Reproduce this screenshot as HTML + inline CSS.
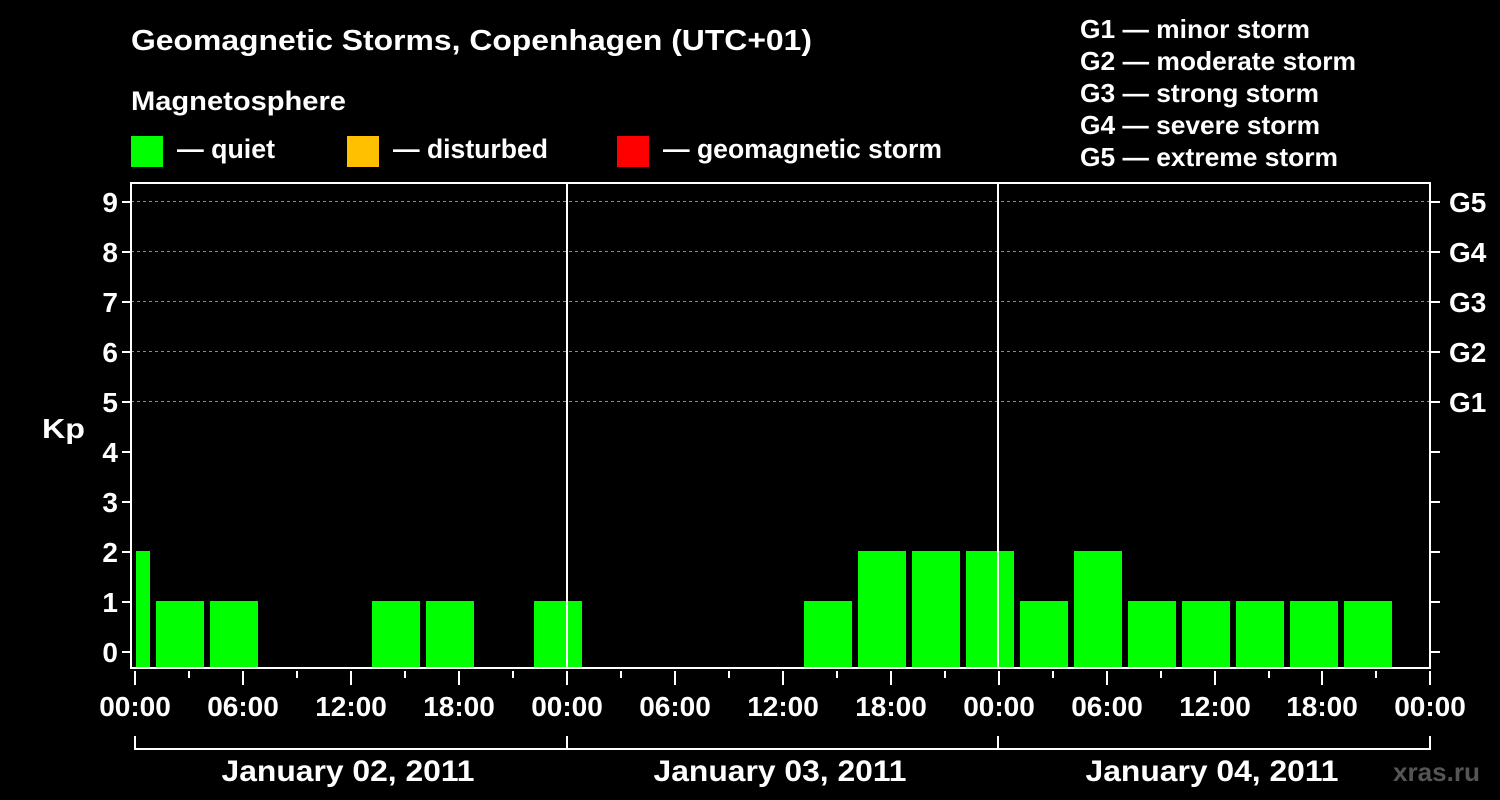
<!DOCTYPE html><html><head><style>body{margin:0;background:#000}svg{display:block}text{font-family:"Liberation Sans",Arial,sans-serif;font-weight:bold;fill:#fff}</style></head><body>
<svg width="1500" height="800" xmlns="http://www.w3.org/2000/svg">
<rect width="1500" height="800" fill="#000"/>
<text x="131" y="50" font-size="29" textLength="681" lengthAdjust="spacingAndGlyphs">Geomagnetic Storms, Copenhagen (UTC+01)</text>
<text x="131" y="110" font-size="27" textLength="215" lengthAdjust="spacingAndGlyphs">Magnetosphere</text>
<rect x="131" y="136" width="32" height="31" fill="#00ff00"/><text x="177" y="158" font-size="27" textLength="98" lengthAdjust="spacingAndGlyphs">— quiet</text>
<rect x="347" y="136" width="32" height="31" fill="#ffc000"/><text x="393" y="158" font-size="27" textLength="155" lengthAdjust="spacingAndGlyphs">— disturbed</text>
<rect x="617" y="136" width="32" height="31" fill="#ff0000"/><text x="663" y="158" font-size="27" textLength="279" lengthAdjust="spacingAndGlyphs">— geomagnetic storm</text>
<g font-size="26"><text x="1080" y="38" textLength="230" lengthAdjust="spacingAndGlyphs">G1 — minor storm</text><text x="1080" y="70" textLength="276" lengthAdjust="spacingAndGlyphs">G2 — moderate storm</text><text x="1080" y="102" textLength="239" lengthAdjust="spacingAndGlyphs">G3 — strong storm</text><text x="1080" y="134" textLength="240" lengthAdjust="spacingAndGlyphs">G4 — severe storm</text><text x="1080" y="166" textLength="258" lengthAdjust="spacingAndGlyphs">G5 — extreme storm</text></g>
<g stroke="#888" stroke-dasharray="3,3" stroke-width="1">
<line x1="131" x2="1430" y1="201.5" y2="201.5"/><line x1="131" x2="1430" y1="251.5" y2="251.5"/><line x1="131" x2="1430" y1="301.5" y2="301.5"/><line x1="131" x2="1430" y1="351.5" y2="351.5"/><line x1="131" x2="1430" y1="401.5" y2="401.5"/></g>
<g fill="#00ff00">
<rect x="136" y="551" width="14" height="116"/>
<rect x="156" y="601" width="48" height="66"/><rect x="210" y="601" width="48" height="66"/>
<rect x="372" y="601" width="48" height="66"/><rect x="426" y="601" width="48" height="66"/>
<rect x="534" y="601" width="48" height="66"/>
<rect x="804" y="601" width="48" height="66"/>
<rect x="858" y="551" width="48" height="116"/><rect x="912" y="551" width="48" height="116"/><rect x="966" y="551" width="48" height="116"/>
<rect x="1020" y="601" width="48" height="66"/><rect x="1074" y="551" width="48" height="116"/>
<rect x="1128" y="601" width="48" height="66"/><rect x="1182" y="601" width="48" height="66"/><rect x="1236" y="601" width="48" height="66"/><rect x="1290" y="601" width="48" height="66"/><rect x="1344" y="601" width="48" height="66"/>
</g>
<g stroke="#fff" stroke-width="2" fill="none">
<rect x="131" y="183" width="1299" height="485"/>
<line x1="567" y1="183" x2="567" y2="668"/><line x1="998" y1="183" x2="998" y2="668"/>
<path d="M122 652H131M122 602H131M122 552H131M122 502H131M122 452H131M122 402H131M122 352H131M122 302H131M122 252H131M122 202H131"/>
<path d="M1430 652H1440M1430 602H1440M1430 552H1440M1430 502H1440M1430 452H1440M1430 402H1440M1430 352H1440M1430 302H1440M1430 252H1440M1430 202H1440"/>
<path d="M135 671V685M243 671V685M351 671V685M459 671V685M567 671V685M675 671V685M783 671V685M891 671V685M999 671V685M1107 671V685M1215 671V685M1322 671V685M1430 671V685"/>
<path d="M189 671V678M297 671V678M405 671V678M513 671V678M621 671V678M729 671V678M837 671V678M945 671V678M1053 671V678M1161 671V678M1269 671V678M1376 671V678"/>
<path d="M135 736V749H1430V736M567 736V749M998 736V749"/>
</g>
<g font-size="28" text-anchor="end"><text x="118" y="662">0</text><text x="118" y="612">1</text><text x="118" y="562">2</text><text x="118" y="512">3</text><text x="118" y="462">4</text><text x="118" y="412">5</text><text x="118" y="362">6</text><text x="118" y="312">7</text><text x="118" y="262">8</text><text x="118" y="212">9</text></g>
<text x="42" y="438" font-size="28" textLength="43" lengthAdjust="spacingAndGlyphs">Kp</text>
<g font-size="28"><text x="1449" y="412">G1</text><text x="1449" y="362">G2</text><text x="1449" y="312">G3</text><text x="1449" y="262">G4</text><text x="1449" y="212">G5</text></g>
<g font-size="28" text-anchor="middle"><text x="135" y="716">00:00</text><text x="243" y="716">06:00</text><text x="351" y="716">12:00</text><text x="459" y="716">18:00</text><text x="567" y="716">00:00</text><text x="675" y="716">06:00</text><text x="783" y="716">12:00</text><text x="891" y="716">18:00</text><text x="999" y="716">00:00</text><text x="1107" y="716">06:00</text><text x="1215" y="716">12:00</text><text x="1322" y="716">18:00</text><text x="1430" y="716">00:00</text>
<text x="348" y="781" font-size="30" textLength="253" lengthAdjust="spacingAndGlyphs">January 02, 2011</text><text x="780" y="781" font-size="30" textLength="253" lengthAdjust="spacingAndGlyphs">January 03, 2011</text><text x="1212" y="781" font-size="30" textLength="253" lengthAdjust="spacingAndGlyphs">January 04, 2011</text></g>
<text x="1393" y="781" font-size="26" textLength="87" lengthAdjust="spacingAndGlyphs" style="fill:#555">xras.ru</text>
</svg></body></html>
